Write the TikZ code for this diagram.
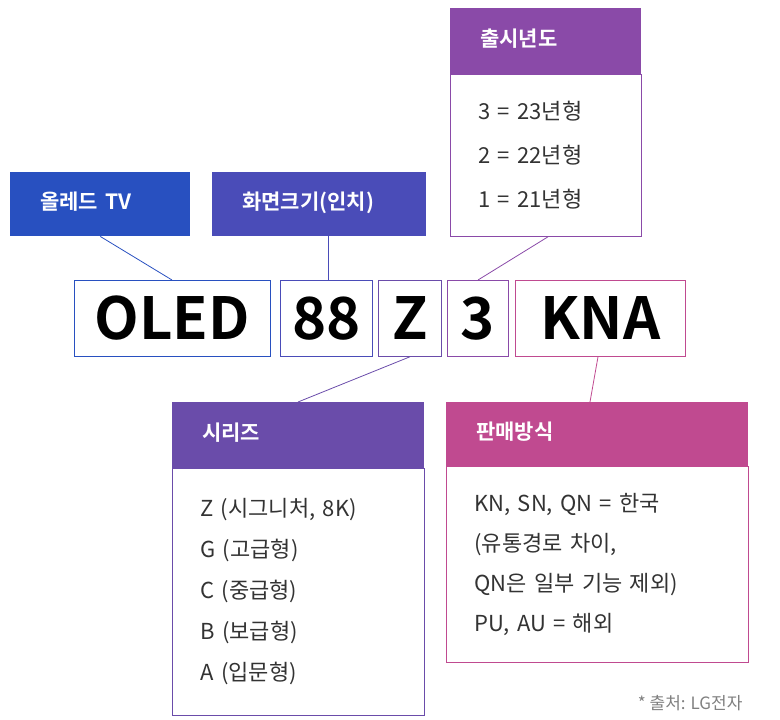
\documentclass[tikz,border=0pt]{standalone}
\usepackage{fontspec}
\setmainfont{Noto Sans CJK KR}
\newfontfamily\codefont{Noto Sans CJK KR Bold}
\definecolor{oledblue}{HTML}{2850C0}
\definecolor{sizeblue}{HTML}{4A4CB8}
\definecolor{yearpurple}{HTML}{8A4AA8}
\definecolor{seriespurple}{HTML}{6A4CAA}
\definecolor{salepink}{HTML}{C04A90}
\definecolor{bodytext}{HTML}{333333}
\tikzstyle{head} = [rectangle, anchor=north west, text=white, font=\codefont\fontsize{21}{24}\selectfont, inner xsep=0pt, align=left, text height=15pt, text depth=4pt]
\tikzstyle{body} = [rectangle, draw, thick, anchor=north west, fill=white, text=bodytext, align=left, inner xsep=28pt, inner ysep=14pt]
\tikzstyle{code} = [rectangle, draw, thick, anchor=north west, minimum height=76pt, font=\codefont\fontsize{58}{60}\selectfont, inner sep=0pt]
\tikzstyle{line} = [draw, thick]
\begin{document}
\begin{tikzpicture}[x=1pt, y=-1pt]
		\useasboundingbox (0,0) rectangle (780,720);
		% top labels
		\node[head, fill=oledblue, text width=120pt, minimum width=180pt, minimum height=64pt] (oled) at (10,172) {올레드 TV};
		\node[head, fill=sizeblue, text width=154pt, minimum width=214pt, minimum height=64pt] (size) at (212,172) {화면크기(인치)};
		\node[head, fill=yearpurple, text width=131pt, minimum width=191pt, minimum height=66pt] (year) at (450,8) {출시년도};
		\node[body, draw=yearpurple, text width=135pt, minimum height=162pt, font=\fontsize{22}{44}\selectfont] (yearb) at (450,74) {3 = 23년형\\2 = 22년형\\1 = 21년형};
		% code boxes
		\node[code, draw=oledblue, minimum width=196pt] (c1) at (74,280) {OLED};
		\node[code, draw=sizeblue, minimum width=92pt] (c2) at (280,280) {88};
		\node[code, draw=seriespurple, minimum width=63pt] (c3) at (378,280) {Z};
		\node[code, draw=yearpurple, minimum width=61pt] (c4) at (447,280) {3};
		\node[code, draw=salepink, minimum width=170pt] (c5) at (515,280) {KNA};
		% bottom labels
		\node[head, fill=seriespurple, text width=192pt, minimum width=252pt, minimum height=66pt] (series) at (172,402) {시리즈};
		\node[body, draw=seriespurple, text width=196pt, minimum height=247pt, font=\fontsize{22}{41}\selectfont] (seriesb) at (172,468) {Z (시그니처, 8K)\\G (고급형)\\C (중급형)\\B (보급형)\\A (입문형)};
		\node[head, fill=salepink, text width=242pt, minimum width=302pt, minimum height=64pt] (sale) at (446,402) {판매방식};
		\node[body, draw=salepink, text width=246pt, minimum height=196pt, font=\fontsize{22}{40}\selectfont] (saleb) at (446,466) {KN, SN, QN = 한국\\(유통경로 차이,\\QN은 일부 기능 제외)\\PU, AU = 해외};
		\node[anchor=east, text=gray, font=\fontsize{17}{20}\selectfont] (src) at (746,703) {* 출처: LG전자};
		
		\path[line, oledblue] (oled.south) -- (c1.north -| 172,0);
		\path[line, sizeblue] (size.south -| 328,0) -- (c2.north -| 328,0);
		\path[line, yearpurple] (yearb.south -| 548,0) -- (c4.north -| 478,0);
		\path[line, seriespurple] (c3.south) -- (series.north -| 298,0);
		\path[line, salepink] (c5.south -| 598,0) -- (sale.north -| 590,0);
	\end{tikzpicture}
\end{document}
